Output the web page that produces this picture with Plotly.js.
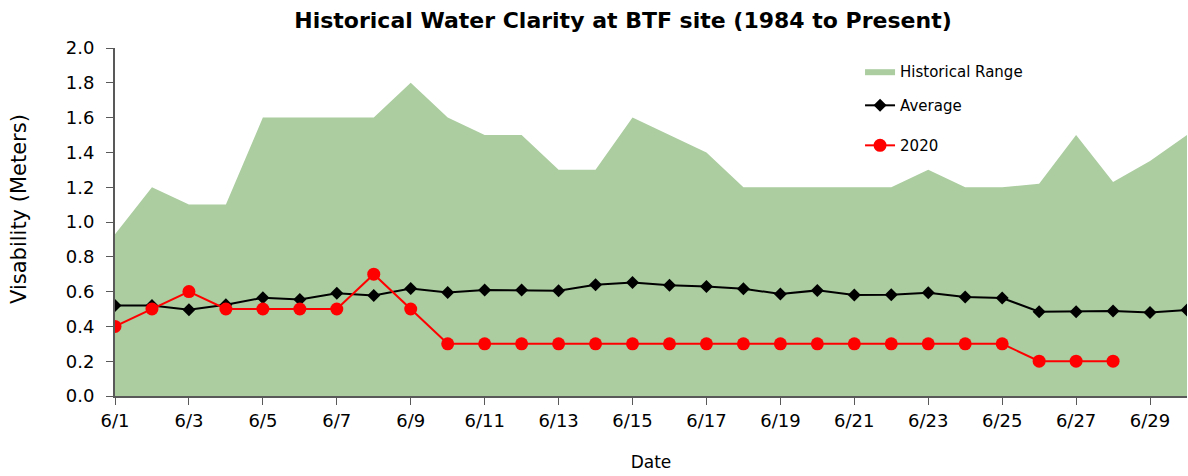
<!DOCTYPE html>
<html>
<head>
<meta charset="utf-8">
<script src="https://cdn.plot.ly/plotly-3.0.1.min.js"></script>
<style>html,body{margin:0;padding:0;background:#fff;}#chart{width:1188px;height:476px;}</style>
</head>
<body>
<div id="chart"></div>
<script>
const dates = ["6/1","6/2","6/3","6/4","6/5","6/6","6/7","6/8","6/9","6/10","6/11","6/12","6/13","6/14","6/15","6/16","6/17","6/18","6/19","6/20","6/21","6/22","6/23","6/24","6/25","6/26","6/27","6/28","6/29","6/30"];
const historicalMax = [0.93,1.2,1.1,1.1,1.6,1.6,1.6,1.6,1.8,1.6,1.5,1.5,1.3,1.3,1.6,1.5,1.4,1.2,1.2,1.2,1.2,1.2,1.3,1.2,1.2,1.22,1.5,1.23,1.35,1.5];
const average = [0.52,0.52,0.496,0.524,0.565,0.555,0.59,0.578,0.618,0.595,0.609,0.609,0.605,0.64,0.653,0.636,0.63,0.617,0.586,0.607,0.58,0.582,0.594,0.569,0.563,0.484,0.484,0.488,0.48,0.494];
const dates2020 = dates.slice(0,28);
const values2020 = [0.4,0.5,0.6,0.5,0.5,0.5,0.5,0.7,0.5,0.3,0.3,0.3,0.3,0.3,0.3,0.3,0.3,0.3,0.3,0.3,0.3,0.3,0.3,0.3,0.3,0.2,0.2,0.2];
const tickLabels = dates.filter((d,i)=>i%2===0);

const font = "DejaVu Sans, Verdana, sans-serif";
const traces = [
  {x: dates, y: historicalMax, type: 'scatter', mode: 'lines', name: 'Historical Range', legend: 'legend',
   fill: 'tozeroy', fillcolor: '#abcda0', line: {width: 0, color: '#abcda0'}},
  {x: dates, y: average, type: 'scatter', mode: 'lines+markers', name: 'Average', legend: 'legend2',
   line: {color: '#000000', width: 2}, marker: {symbol: 'diamond', size: 10, color: '#000000'}},
  {x: dates2020, y: values2020, type: 'scatter', mode: 'lines+markers', name: '2020', legend: 'legend3',
   line: {color: '#ff0000', width: 2}, marker: {symbol: 'circle', size: 13, color: '#ff0000'}}
];
const legBase = {x: 0.695, xanchor: 'left', yanchor: 'top', bgcolor: 'rgba(0,0,0,0)', font: {size: 15}};
const layout = {
  width: 1188, height: 476,
  margin: {l: 115, r: 1, t: 48, b: 80},
  paper_bgcolor: '#ffffff', plot_bgcolor: '#ffffff',
  font: {family: font, color: '#000000', size: 18},
  title: {text: '<b>Historical Water Clarity at BTF site (1984 to Present)</b>', font: {family: font, size: 22, color: '#000'},
          x: 623 / 1188, xref: 'container', xanchor: 'center', y: 1 - 20/476, yanchor: 'middle', yref: 'container'},
  xaxis: {type: 'category', range: [0, 29], tickmode: 'array', tickvals: tickLabels, ticktext: tickLabels,
          showgrid: false, zeroline: false, showline: true, linecolor: '#595959', linewidth: 2,
          ticks: 'outside', ticklen: 7, tickcolor: '#595959', tickwidth: 1,
          tickfont: {size: 18}, title: {text: 'Date', font: {size: 17}, standoff: 27}},
  yaxis: {range: [0, 2], dtick: 0.2, tickformat: '.1f', showgrid: false, zeroline: false,
          showline: true, linecolor: '#595959', linewidth: 2, ticks: 'outside', ticklen: 7, tickcolor: '#595959',
          tickfont: {size: 18}, ticklabelstandoff: 8},
  annotations: [{text: 'Visability (Meters)', textangle: -90, xref: 'paper', yref: 'paper',
                 x: (19 - 115) / 1072, y: (396 - 209) / 348, xanchor: 'center', yanchor: 'middle',
                 showarrow: false, font: {size: 21}}],
  showlegend: true,
  legend: Object.assign({}, legBase, {y: 0.98}),
  legend2: Object.assign({}, legBase, {y: 0.882}),
  legend3: Object.assign({}, legBase, {y: 0.767})
};
Plotly.newPlot('chart', traces, layout, {displayModeBar: false, staticPlot: true});
</script>
</body>
</html>
